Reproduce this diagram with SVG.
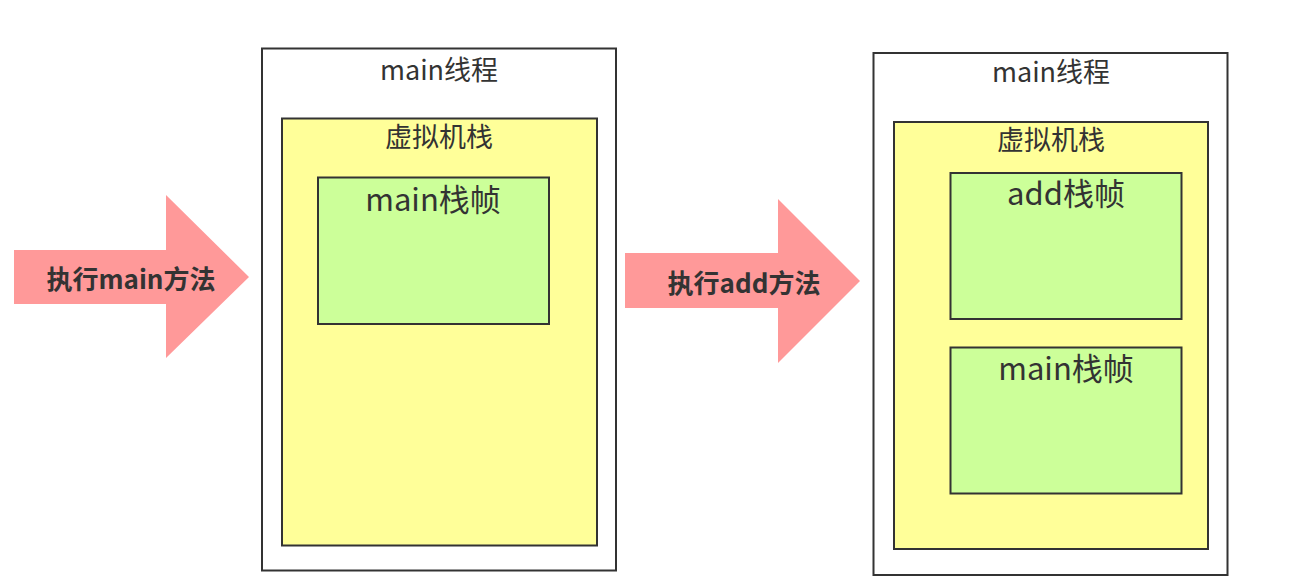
<svg xmlns="http://www.w3.org/2000/svg" width="1314" height="581" viewBox="0 0 1314 581">
<style>
text{font-family:"Noto Sans CJK SC","Noto Sans",sans-serif;fill:#333;text-anchor:middle}
.thread{fill:#fff;stroke:#333;stroke-width:2}
.vm{fill:#ffff99;stroke:#333;stroke-width:2}
.frame{fill:#ccff99;stroke:#333;stroke-width:2}
.arrow{fill:#ff9999;stroke:none}
.t1{font-size:27px}
.t2{font-size:31px}
.ta{font-size:26px;font-weight:bold}
</style>
<rect width="1314" height="581" fill="#fff"/>
<g id="connectors">
<g id="arrow1"><polygon class="arrow" points="14,250 166,250 166,195 249,277 166,358 166,304 14,304"/><text class="ta" x="131" y="289">执行main方法</text></g>
<g id="arrow2"><polygon class="arrow" points="625,253 778,253 778,199 860,281 778,363 778,308 625,308"/><text class="ta" x="744" y="293">执行add方法</text></g>
</g>
<g id="thread1"><rect class="thread" x="262" y="48.5" width="354" height="522"/><text class="t1" x="439" y="80">main线程</text></g>
<g id="vm1"><rect class="vm" x="282" y="118.5" width="315" height="427"/><text class="t1" x="439" y="147">虚拟机栈</text></g>
<g id="frame1"><rect class="frame" x="318" y="177.5" width="231" height="146.5"/><text class="t2" x="433" y="211">main栈帧</text></g>
<g id="thread2"><rect class="thread" x="873.5" y="53" width="354" height="522"/><text class="t1" x="1051" y="82">main线程</text></g>
<g id="vm2"><rect class="vm" x="894" y="122" width="314" height="427"/><text class="t1" x="1051" y="150">虚拟机栈</text></g>
<g id="frame2"><rect class="frame" x="950.5" y="173" width="231" height="146"/><text class="t2" x="1066" y="205">add栈帧</text></g>
<g id="frame3"><rect class="frame" x="950.5" y="347.5" width="231" height="146"/><text class="t2" x="1066" y="380">main栈帧</text></g>
</svg>
